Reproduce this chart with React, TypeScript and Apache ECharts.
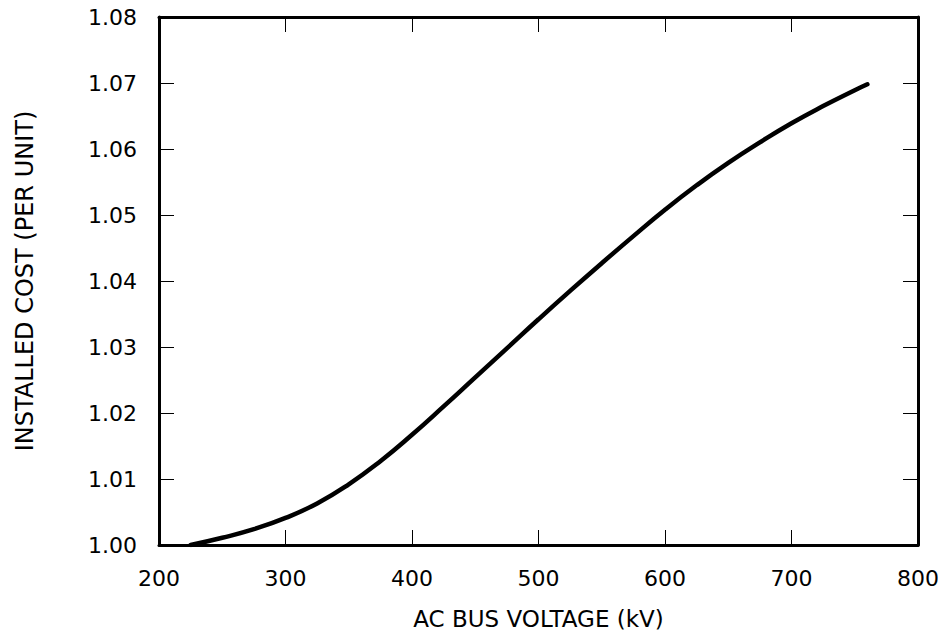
import React, { useEffect, useRef } from "react";
import * as echarts from "echarts";

const voltageKV = [225, 250, 275, 300, 325, 350, 375, 400, 425, 450, 475, 500, 525, 550, 575, 600, 625, 650, 675, 700, 725, 750, 760];
const installedCost = [1.0, 1.0011, 1.0024, 1.0041, 1.0063, 1.0092, 1.0127, 1.0167, 1.021, 1.0254, 1.0298, 1.0342, 1.0385, 1.0427, 1.0468, 1.0508, 1.0545, 1.0579, 1.061, 1.0639, 1.0665, 1.0689, 1.0698];
const xTicks = [200, 300, 400, 500, 600, 700, 800];
const yTicks = [1.0, 1.01, 1.02, 1.03, 1.04, 1.05, 1.06, 1.07, 1.08];

const FONT = "DejaVu Sans";

export default function App() {
  const ref = useRef<HTMLDivElement>(null);
  useEffect(() => {
    if (!ref.current) return;
    const chart = echarts.init(ref.current, undefined, { renderer: "svg" });
    const axisLine = { show: true, onZero: false, lineStyle: { color: "#000", width: 3 } };
    const axisTick = { show: true, inside: true, length: 15, lineStyle: { color: "#000", width: 1 } };
    const xMin = xTicks[0];
    const xMax = xTicks[xTicks.length - 1];
    const yMin = yTicks[0];
    const yMax = yTicks[yTicks.length - 1];
    chart.setOption({
      animation: false,
      backgroundColor: "#fff",
      grid: { left: 159, right: 25, top: 17, bottom: 92, containLabel: false },
      xAxis: [
        {
          type: "value",
          position: "bottom",
          min: xMin,
          max: xMax,
          interval: 100,
          axisLine,
          axisTick,
          splitLine: { show: false },
          axisLabel: { color: "#000", fontFamily: FONT, fontSize: 22, margin: 22 },
          name: "AC BUS VOLTAGE (kV)",
          nameLocation: "middle",
          nameGap: 62,
          nameTextStyle: { color: "#000", fontFamily: FONT, fontSize: 23 },
        },
        {
          type: "value",
          position: "top",
          min: xMin,
          max: xMax,
          interval: 100,
          axisLine,
          axisTick,
          splitLine: { show: false },
          axisLabel: { show: false },
        },
      ],
      yAxis: [
        {
          type: "value",
          position: "left",
          min: yMin,
          max: yMax,
          interval: 0.01,
          axisLine,
          axisTick,
          splitLine: { show: false },
          axisLabel: {
            color: "#000",
            fontFamily: FONT,
            fontSize: 22,
            margin: 22,
            formatter: (v: number) => v.toFixed(2),
          },
          name: "INSTALLED COST (PER UNIT)",
          nameLocation: "middle",
          nameGap: 122,
          nameTextStyle: { color: "#000", fontFamily: FONT, fontSize: 24 },
        },
        {
          type: "value",
          position: "right",
          min: yMin,
          max: yMax,
          interval: 0.01,
          axisLine,
          axisTick,
          splitLine: { show: false },
          axisLabel: { show: false },
        },
      ],
      series: [
        {
          type: "line",
          data: voltageKV.map((v, i) => [v, installedCost[i]]),
          smooth: 0.5,
          showSymbol: false,
          lineStyle: { color: "#000", width: 4.5, cap: "round" },
        },
      ],
    });
    return () => chart.dispose();
  }, []);
  return (
    <div
      ref={ref}
      style={{ position: "fixed", left: 0, top: 0, width: 943, height: 637 }}
    />
  );
}
